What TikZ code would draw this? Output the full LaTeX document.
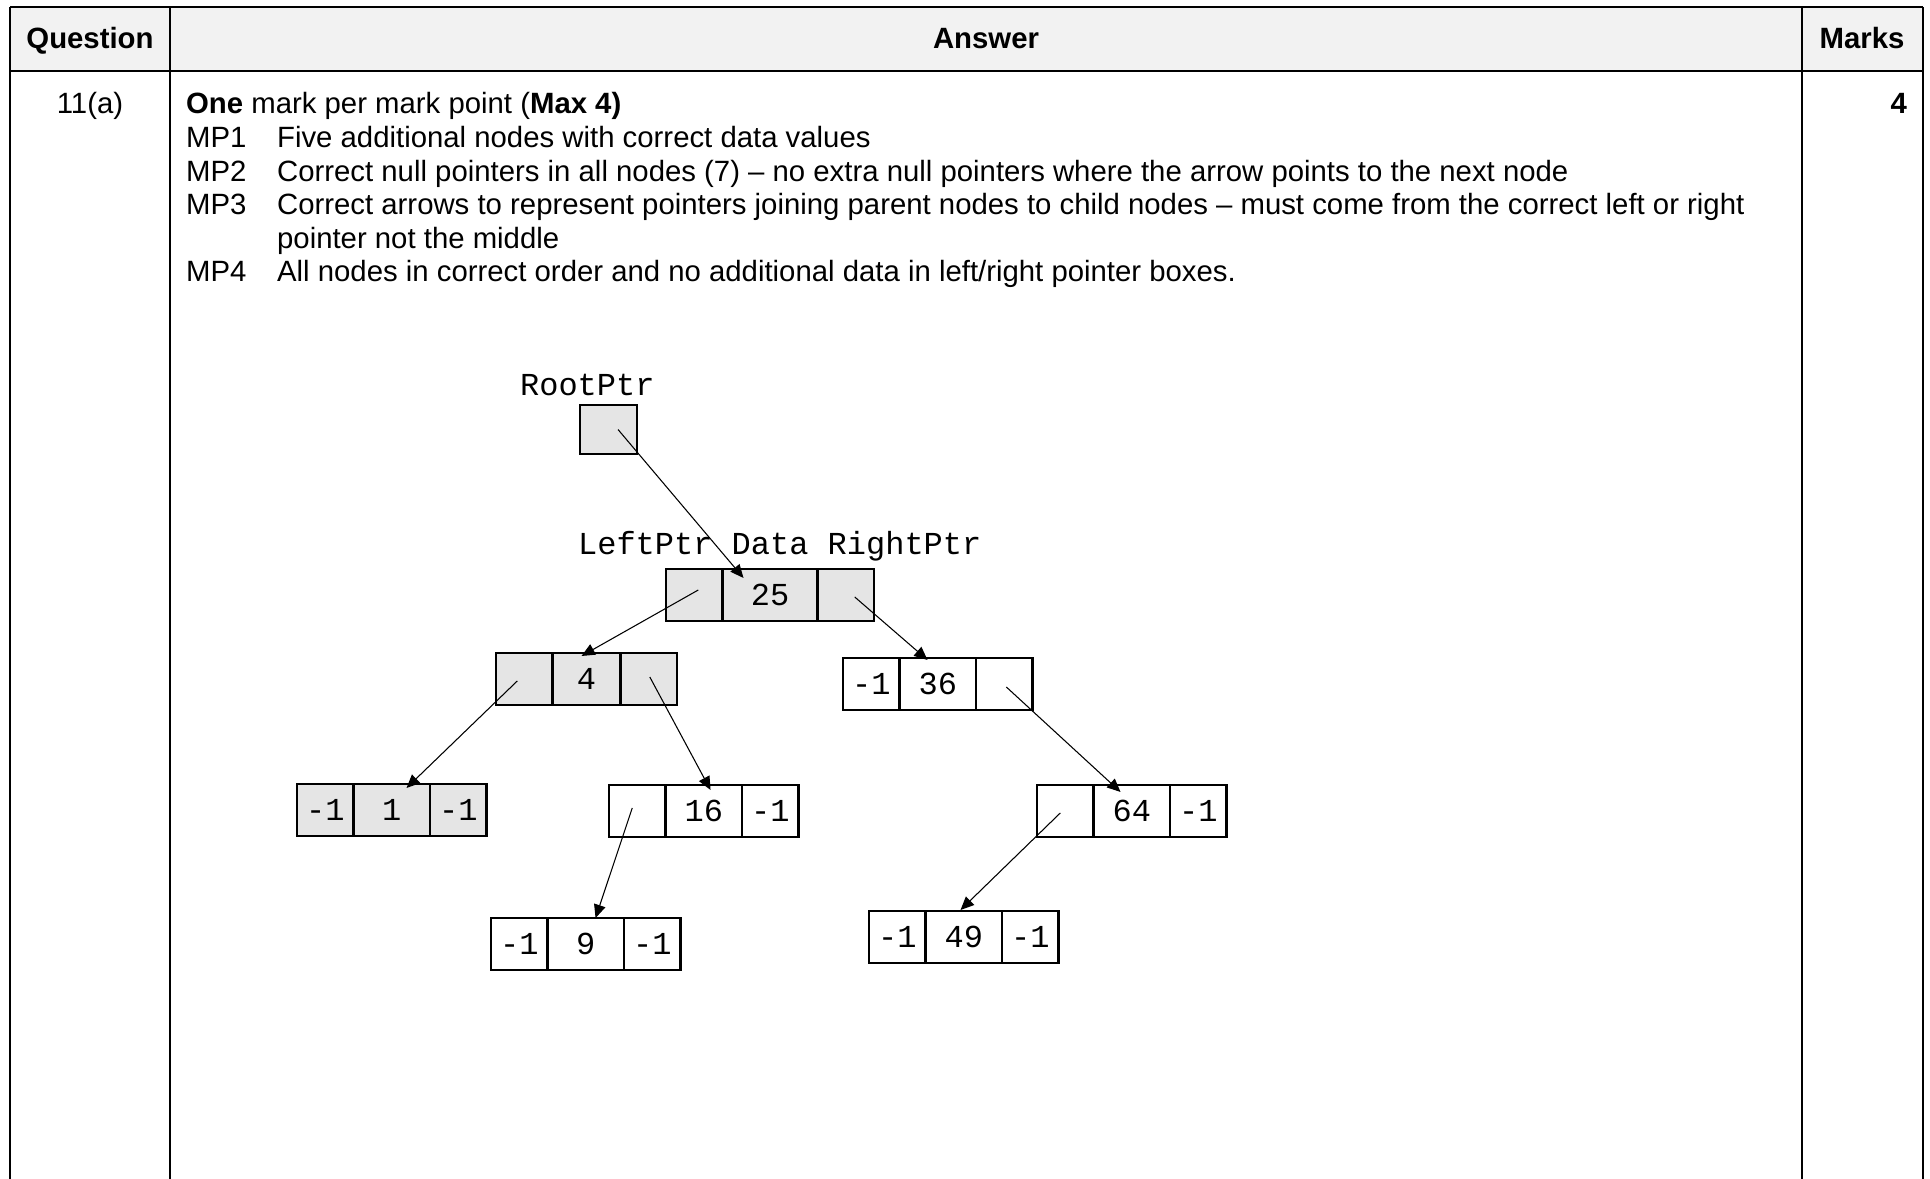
\documentclass[tikz,border=0pt]{standalone}
\usepackage{fontspec}
\setmainfont{Liberation Sans}
\newfontfamily\courfam{Liberation Mono}
\usetikzlibrary{arrows.meta,positioning,calc}

\tikzset{every picture/.style={line width=0.85pt}}
\tikzset{
  txt/.style={inner sep=0pt, font={\fontsize{11}{13.2}\selectfont}},
  hdr/.style={inner sep=0pt, font={\fontsize{11}{13.2}\selectfont\bfseries}},
  lbl/.style={inner sep=0pt, font={\courfam\fontsize{12}{14}\selectfont}},
  cell/.style={draw, line width=1pt, rectangle, inner sep=0pt, outer sep=0pt, minimum height=19.5pt, font={\courfam\fontsize{12}{14}\selectfont}},
  ptrcell/.style={cell, minimum width=21.2pt},
  datcell/.style={cell, minimum width=28.7pt},
  greycell/.style={fill=black!10},
  ptr/.style={line width=0.4pt, -{Triangle[length=5pt,width=4.4pt]}},
}

\begin{document}
\begin{tikzpicture}[x=0.375pt,y=0.375pt,yscale=-1]
\useasboundingbox (0,0) rectangle (1930,1179);
%Table frame
\fill [black!5] (10,7) rectangle (1923,71) ;
\draw (10,7) -- (1923,7) ;
\draw (10,71) -- (1923,71) ;
\draw (10,7) -- (10,1179) ;
\draw (170,7) -- (170,1179) ;
\draw (1802,7) -- (1802,1179) ;
\draw (1923,7) -- (1923,1179) ;
% Text Node
\node [hdr, anchor=base] (hquest) at (90,49) {Question};
% Text Node
\node [hdr, anchor=base] (hans) at (986,49) {Answer};
% Text Node
\node [hdr, anchor=base] (hmarks) at (1862,49) {Marks};
% Text Node
\node [txt, anchor=base] (qnum) at (90,114) {11(a)};
% Text Node
\node [hdr, anchor=base east] (mark) at (1908,114) {4};
% Text Node
\node [txt, anchor=base west] (intro) at (185,114) {\textbf{One} mark per mark point (\textbf{Max 4)}};
% Text Node
\node [txt, anchor=base west] (mpa) at (185,147.6) {MP1};
\node [txt, anchor=base west] (mpatext) at (276,147.6) {Five additional nodes with correct data values};
% Text Node
\node [txt, anchor=base west] (mpb) at (185,181.2) {MP2};
\node [txt, anchor=base west] (mpbtext) at (276,181.2) {Correct null pointers in all nodes (7) – no extra null pointers where the arrow points to the next node};
% Text Node
\node [txt, anchor=base west] (mpc) at (185,214.8) {MP3};
\node [txt, anchor=base west] (mpctext) at (276,214.8) {Correct arrows to represent pointers joining parent nodes to child nodes – must come from the correct left or right};
\node [txt, anchor=base west] (mpctextb) at (276,248.4) {pointer not the middle};
% Text Node
\node [txt, anchor=base west] (mpd) at (185,282) {MP4};
\node [txt, anchor=base west] (mpdtext) at (276,282) {All nodes in correct order and no additional data in left/right pointer boxes.};

% Labels
\node [lbl, anchor=base west] (rootlbl) at (519,396) {RootPtr};
\node [lbl, anchor=base west] (fieldlbl) at (577,555) {LeftPtr Data RightPtr};

%Root pointer
\node [cell, greycell, anchor=north west, minimum width=21.4pt, minimum height=18.4pt] (root) at (580,405) {};

%Node 25
\node [ptrcell, greycell, anchor=north west] (n25l) at (666,569) {};
\node [datcell, greycell, minimum width=35.6pt, right=0pt of n25l] (n25d) {25};
\node [ptrcell, greycell, right=0pt of n25d] (n25r) {};
%Node 4
\node [ptrcell, greycell, anchor=north west] (n4l) at (496,653) {};
\node [datcell, greycell, minimum width=25.5pt, right=0pt of n4l] (n4d) {4};
\node [ptrcell, greycell, right=0pt of n4d] (n4r) {};
%Node 36
\node [ptrcell, anchor=north west] (n36l) at (843,658) {-1};
\node [datcell, right=0pt of n36l] (n36d) {36};
\node [ptrcell, right=0pt of n36d] (n36r) {};
%Node 1
\node [ptrcell, greycell, anchor=north west] (n1l) at (297,784) {-1};
\node [datcell, greycell, right=0pt of n1l] (n1d) {1};
\node [ptrcell, greycell, right=0pt of n1d] (n1r) {-1};
%Node 16
\node [ptrcell, anchor=north west] (n16l) at (609,785) {};
\node [datcell, right=0pt of n16l] (n16d) {16};
\node [ptrcell, right=0pt of n16d] (n16r) {-1};
%Node 64
\node [ptrcell, anchor=north west] (n64l) at (1037,785) {};
\node [datcell, right=0pt of n64l] (n64d) {64};
\node [ptrcell, right=0pt of n64d] (n64r) {-1};
%Node 9
\node [ptrcell, anchor=north west] (n9l) at (491,918) {-1};
\node [datcell, right=0pt of n9l] (n9d) {9};
\node [ptrcell, right=0pt of n9d] (n9r) {-1};
%Node 49
\node [ptrcell, anchor=north west] (n49l) at (869,911) {-1};
\node [datcell, right=0pt of n49l] (n49d) {49};
\node [ptrcell, right=0pt of n49d] (n49r) {-1};

%Pointers
\draw [ptr] ($(root.center)+(9.5,0)$) -- ($(n25d.north west)+(21,9)$) ;
\draw [ptr] ($(n25l.center)+(4,-5)$) -- ($(n4d.north west)+(29,3)$) ;
\draw [ptr] ($(n25r.center)+(9,2)$) -- ($(n36d.north west)+(28,2)$) ;
\draw [ptr] ($(n4l.center)+(-7,2)$) -- ($(n1d.north west)+(53,4)$) ;
\draw [ptr] ($(n4r.center)+(1,-2)$) -- ($(n16d.north west)+(45,5)$) ;
\draw [ptr] ($(n16l.center)+(-5,-3)$) -- ($(n9d.north west)+(48,0)$) ;
\draw [ptr] ($(n36r.center)+(2,3)$) -- ($(n64d.north west)+(27,7)$) ;
\draw [ptr] ($(n64l.center)+(-5,2)$) -- ($(n49d.north west)+(35,-1)$) ;
\end{tikzpicture}
\end{document}
